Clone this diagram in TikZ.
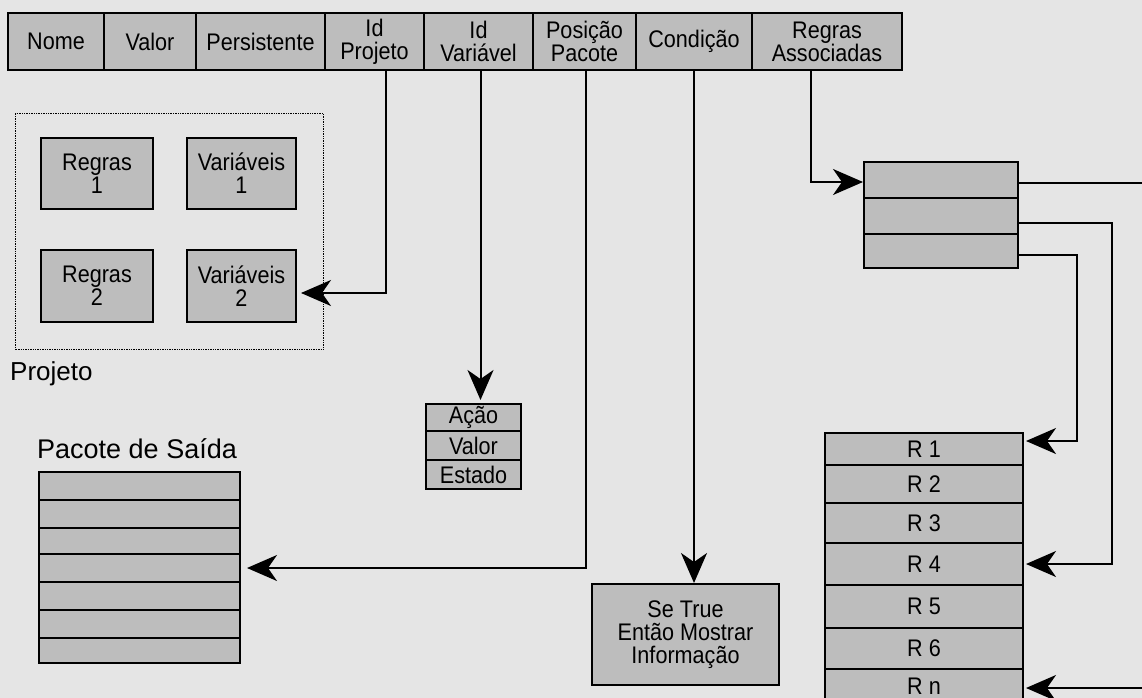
\documentclass[tikz,border=0pt]{standalone}
\usepackage{fontspec}
\setmainfont{Liberation Sans}[FakeStretch=0.9]
\newfontfamily\labelfont{Liberation Sans}
\usetikzlibrary{arrows.meta}
\definecolor{paper}{gray}{0.9}
\definecolor{cellfill}{gray}{0.74}

\begin{document}
\begin{tikzpicture}[x=1pt,y=-1pt,
  box/.style={draw=black,line width=2pt,fill=cellfill,inner sep=0pt,
    anchor=north west,align=center,
    font=\fontsize{24}{23}\selectfont},
  frame/.style={draw=black,densely dotted,line width=1.4pt,inner sep=0pt,
    anchor=north west},
  caption/.style={inner sep=0pt,font=\labelfont\fontsize{26}{26}\selectfont},
  conn/.style={line width=2pt,
    -{Stealth[length=30pt,width=26pt,inset=9pt]}}]

% paper
\useasboundingbox (0,0) rectangle (1142,698);
\fill[paper] (0,0) rectangle (1142,698);
\clip (0,0) rectangle (1142,698);

% record header
\node[box,minimum width=96,minimum height=57]  (h1) at (7,12)   {Nome};
\node[box,minimum width=92,minimum height=57]  (h2) at (103,12) {Valor};
\node[box,minimum width=129,minimum height=57] (h3) at (195,12) {Persistente};
\node[box,minimum width=99,minimum height=57]  (h4) at (324,12) {Id\\Projeto};
\node[box,minimum width=109,minimum height=57] (h5) at (423,12) {Id\\Variável};
\node[box,minimum width=103,minimum height=57] (h6) at (532,12) {Posição\\Pacote};
\node[box,minimum width=116,minimum height=57] (h7) at (635,12) {Condição};
\node[box,minimum width=150,minimum height=57] (h8) at (751,12) {Regras\\Associadas};

% project
\node[frame,minimum width=308,minimum height=236] (proj) at (15,113) {};
\node[caption,anchor=west] (projlbl) at (10,374) {Projeto};
\node[box,minimum width=112,minimum height=71] (r1) at (40,137)  {Regras\\1};
\node[box,minimum width=109,minimum height=71] (v1) at (186,137) {Variáveis\\1};
\node[box,minimum width=112,minimum height=72] (r2) at (40,249)  {Regras\\2};
\node[box,minimum width=109,minimum height=72] (v2) at (186,249) {Variáveis\\2};

% variable record
\node[box,minimum width=95,minimum height=27] (a1) at (425,403) {Ação};
\node[box,minimum width=95,minimum height=29] (a2) at (425,430) {Valor};
\node[box,minimum width=95,minimum height=29] (a3) at (425,459) {Estado};

% output packet
\node[caption,anchor=base west,font=\labelfont\fontsize{27}{27}\selectfont]
  (pktlbl) at (37,458) {Pacote de Saída};
\node[box,minimum width=201,minimum height=28] (p1) at (38,471) {};
\node[box,minimum width=201,minimum height=28] (p2) at (38,499) {};
\node[box,minimum width=201,minimum height=26] (p3) at (38,527) {};
\node[box,minimum width=201,minimum height=28] (p4) at (38,553) {};
\node[box,minimum width=201,minimum height=28] (p5) at (38,581) {};
\node[box,minimum width=201,minimum height=28] (p6) at (38,609) {};
\node[box,minimum width=201,minimum height=25] (p7) at (38,637) {};

% condition
\node[box,minimum width=187,minimum height=101] (se) at (591,583)
  {Se True\\Então Mostrar\\Informação};

% associated rules index
\node[box,minimum width=154,minimum height=36] (ra1) at (863,161) {};
\node[box,minimum width=154,minimum height=36] (ra2) at (863,197) {};
\node[box,minimum width=154,minimum height=34] (ra3) at (863,233) {};

% rule list
\node[box,minimum width=198,minimum height=32] (q1) at (824,432) {R 1};
\node[box,minimum width=198,minimum height=38] (q2) at (824,464) {R 2};
\node[box,minimum width=198,minimum height=40] (q3) at (824,502) {R 3};
\node[box,minimum width=198,minimum height=42] (q4) at (824,542) {R 4};
\node[box,minimum width=198,minimum height=43] (q5) at (824,584) {R 5};
\node[box,minimum width=198,minimum height=41] (q6) at (824,627) {R 6};
\node[box,minimum width=198,minimum height=34] (qn) at (824,668) {R n};

% connectors
\draw[conn] ([xshift=11pt]h4.south) |- ([xshift=4pt,yshift=-7pt]v2.east);
\draw[conn] ([xshift=2pt]h5.south) -- ([xshift=2pt,yshift=3pt]h5.south |- a1.north);
\draw[conn] ([xshift=1pt]h6.south) |- ([xshift=6pt]p4.east);
\draw[conn] (h7.south) -- (h7.south |- se.north);
\draw[conn] ([xshift=-16pt]h8.south) |- ([yshift=-2pt]ra1.west);
\draw[conn] ([yshift=-3pt]ra1.east) -- ++(160,0) |- ([xshift=2pt,yshift=-2pt]qn.east);
\draw[conn] ([yshift=-7pt]ra2.east) -- ++(93,0) |- ([xshift=2pt]q4.east);
\draw[conn] ([yshift=-4pt]ra3.east) -- ++(58,0) |- ([xshift=2pt,yshift=8pt]q1.east);
\end{tikzpicture}
\end{document}
